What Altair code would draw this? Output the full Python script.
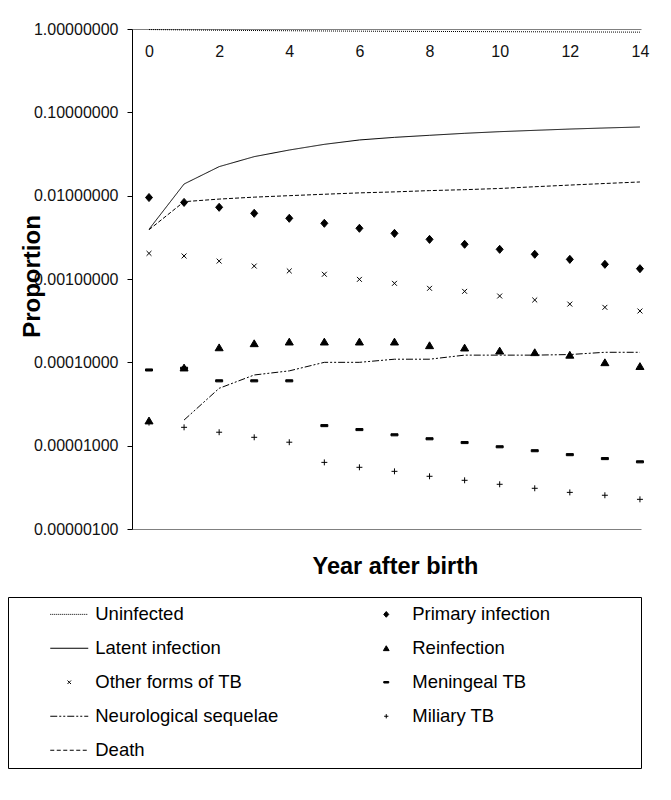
import altair as alt
import pandas as pd

# ---------------- data ----------------
years = list(range(15))

uninfected = [0.985, 0.975, 0.966, 0.959, 0.953, 0.947, 0.942, 0.938, 0.935,
              0.932, 0.929, 0.926, 0.923, 0.920, 0.917]
latent = [0.00395, 0.0138, 0.0223, 0.0294, 0.0353, 0.0413, 0.0466, 0.0501,
          0.0530, 0.0560, 0.0586, 0.0608, 0.0630, 0.0649, 0.0667]
neuro = [None, 2.03e-5, 4.88e-5, 7.05e-5, 7.9e-5, 1.0e-4, 1.0e-4, 1.09e-4,
         1.09e-4, 1.22e-4, 1.22e-4, 1.22e-4, 1.24e-4, 1.32e-4, 1.32e-4]
death = [0.0039, 0.00847, 0.0091, 0.0096, 0.0100, 0.0104, 0.0108, 0.0111,
         0.0115, 0.0118, 0.0122, 0.0128, 0.0134, 0.0140, 0.0146]

primary = [0.0095, 0.0083, 0.00725, 0.00614, 0.00535, 0.00466, 0.00406,
           0.00353, 0.00299, 0.00261, 0.00227, 0.00198, 0.00172, 0.0015,
           0.00133]
other_tb = [0.00203, 0.00189, 0.00164, 0.00143, 0.00125, 0.00114, 0.00099,
            0.000887, 0.000773, 0.000711, 0.000625, 0.00056, 0.0005,
            0.000457, 0.000413]
reinfection = [2.0e-5, 8.64e-5, 1.51e-4, 1.69e-4, 1.77e-4, 1.77e-4, 1.77e-4,
               1.77e-4, 1.6e-4, 1.5e-4, 1.38e-4, 1.32e-4, 1.23e-4, 1.0e-4,
               9.0e-5]
meningeal = [8.1e-5, 8.5e-5, 6.0e-5, 6.0e-5, 6.0e-5, 1.74e-5, 1.56e-5,
             1.35e-5, 1.21e-5, 1.09e-5, 9.7e-6, 8.7e-6, 7.8e-6, 7.0e-6, 6.4e-6]
miliary = [1.89e-5, 1.66e-5, 1.45e-5, 1.26e-5, 1.1e-5, 6.3e-6, 5.5e-6,
           4.92e-6, 4.29e-6, 3.84e-6, 3.44e-6, 3.08e-6, 2.75e-6, 2.54e-6,
           2.27e-6]

y_ticks = [1e-6, 1e-5, 1e-4, 1e-3, 1e-2, 1e-1, 1.0]
x_ticks = [0, 2, 4, 6, 8, 10, 12, 14]

line_series = ["Uninfected", "Latent infection", "Neurological sequelae", "Death"]
line_values = [uninfected, latent, neuro, death]
point_series = ["Primary infection", "Reinfection", "Other forms of TB",
                "Meningeal TB", "Miliary TB"]
point_values = [primary, reinfection, other_tb, meningeal, miliary]

# legend fills column by column: left column first, then right column
legend_order = ["Uninfected", "Latent infection", "Other forms of TB",
                "Neurological sequelae", "Death",
                "Primary infection", "Reinfection", "Meningeal TB", "Miliary TB"]

line_rows = [{"year": yr, "value": v, "series": s}
             for s, vals in zip(line_series, line_values)
             for yr, v in zip(years, vals)]
point_rows = [{"year": yr, "value": v, "series": s}
              for s, vals in zip(point_series, point_values)
              for yr, v in zip(years, vals)]
line_df = pd.DataFrame(line_rows)
point_df = pd.DataFrame(point_rows)

# ---------------- symbol shapes ----------------
U = 2.5          # px per path unit in the legend (symbolSize 25)
HALF = 19.0      # half length of legend line samples, px
SYM_OFF = 44.0   # legend symbol offset, px
EXT_L, EXT_R = 9.25 + SYM_OFF, 244.5   # invisible extents -> equal legend cells


def dashed(pattern):
    parts, x, i = [], -HALF, 0
    while x < HALF - 1e-9:
        L = pattern[i % len(pattern)]
        if i % 2 == 0:
            end = min(x + L, HALF)
            parts.append(f"M{x / U:.3f},0H{end / U:.3f}")
        x += L
        i += 1
    return "".join(parts)


def cell(path):
    return f"M{-EXT_L / U:.2f},0" + path + f"M{EXT_R / U:.2f},0"


shape_paths = {
    "Uninfected": cell(dashed([1, 1])),
    "Latent infection": cell(f"M{-HALF / U:.3f},0H{HALF / U:.3f}"),
    "Neurological sequelae": cell(dashed([7, 2, 2, 2, 2, 2])),
    "Death": cell(dashed([4, 2.5])),
    "Primary infection": cell("M0,-1.15L1,0L0,1.15L-1,0Z"),
    "Reinfection": cell("M0,-1L1.15,0.95L-1.15,0.95Z"),
    "Other forms of TB": cell("M-0.7,-0.7L0.7,0.7M-0.7,0.7L0.7,-0.7"),
    "Meningeal TB": cell("M-1,-0.3L1,-0.3L1,0.3L-1,0.3Z"),
    "Miliary TB": cell("M-0.85,0L0.85,0M0,-0.85L0,0.85"),
}
shape_range = [shape_paths[s] for s in legend_order]

dash_range = [[1, 1], [1, 0], [7, 2, 2, 2, 2, 2], [4, 2]]

FONT = "Liberation Sans"

x_scale = alt.Scale(domain=[-0.485, 14.03], nice=False, zero=False)
y_enc = alt.Y(
    "value:Q",
    scale=alt.Scale(type="log", domain=[1e-6, 1.0], nice=False),
    axis=alt.Axis(
        orient="left", values=y_ticks, format=".8f", grid=False,
        tickSize=5, tickColor="black", domainColor="black",
        labelPadding=9, labelFont=FONT, labelFontSize=16, labelColor="#111111",
        labelFlush=False,
        title="Proportion", titleFont=FONT, titleFontSize=24,
        titleFontWeight="bold", titleColor="black", titleAngle=270,
        titleAlign="center", titleBaseline="alphabetic",
        titleX=-93, titleY=247,
    ),
)

lines = alt.Chart(line_df).mark_line(strokeWidth=1, color="black").encode(
    x=alt.X(
        "year:Q", scale=x_scale,
        axis=alt.Axis(
            orient="top", values=x_ticks, grid=False, ticks=False, tickSize=0,
            labelPadding=-22, labelBaseline="middle", labelAngle=0,
            labelFont=FONT, labelFontSize=16, labelColor="#111111",
            labelFlush=False, domainColor="#808080", title="",
        ),
    ),
    y=y_enc,
    strokeDash=alt.StrokeDash(
        "series:N",
        scale=alt.Scale(domain=line_series, range=dash_range),
        legend=None,
    ),
)

points = alt.Chart(point_df).mark_point(
    filled=False, fill="black", stroke="black", strokeWidth=1, size=49,
    opacity=1, fillOpacity=1, strokeOpacity=1,
).encode(
    x=alt.X(
        "year:Q", scale=x_scale,
        axis=alt.Axis(
            orient="bottom", labels=False, ticks=False, grid=False,
            domainColor="#808080",
            title="Year after birth", titleFont=FONT, titleFontSize=23.5,
            titleFontWeight="bold", titleColor="black", titleAlign="center",
            titleBaseline="alphabetic", titleX=263, titleY=44,
        ),
    ),
    y=y_enc,
    shape=alt.Shape(
        "series:N",
        scale=alt.Scale(domain=legend_order, range=shape_range),
        legend=alt.Legend(
            title=None, orient="none", legendX=-124, legendY=568,
            columns=2, gridAlign="all", padding=8,
            strokeColor="black", fillColor="white",
            symbolSize=25, symbolStrokeWidth=1, symbolOpacity=1,
            symbolOffset=SYM_OFF,
            labelFont=FONT, labelFontSize=18.5, labelColor="black",
            labelOffset=16.75, labelLimit=400,
            rowPadding=15, columnPadding=15,
        ),
    ),
)

chart = alt.layer(lines, points).resolve_axis(x="independent").properties(
    width=509, height=500,
    autosize=alt.AutoSizeParams(type="none"),
    padding={"left": 124, "top": 21, "right": 10, "bottom": 245},
).configure_view(strokeWidth=0)

chart.save("out.html", embed_options={"renderer": "svg", "actions": False})
